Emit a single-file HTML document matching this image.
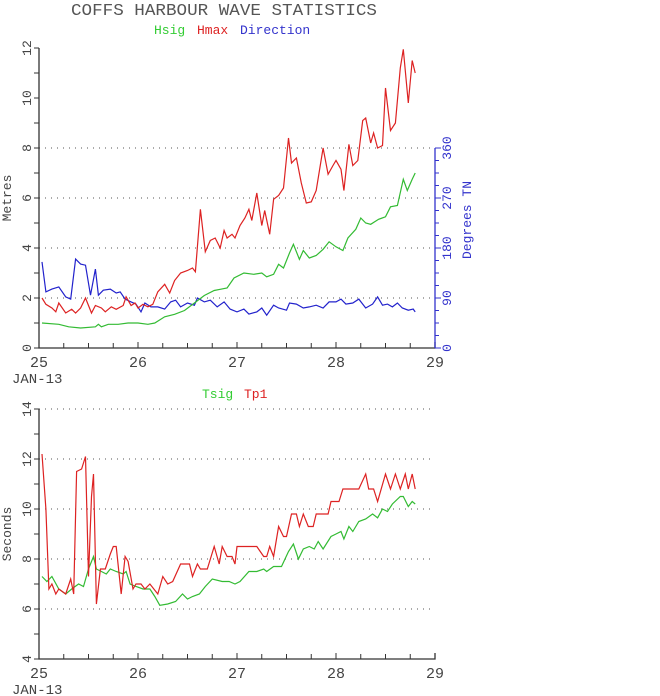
<!DOCTYPE html>
<html><head><meta charset="utf-8"><style>
html,body{margin:0;padding:0;background:#fff;}
svg{display:block;font-family:"Liberation Mono",monospace;}
</style></head><body>
<svg id="c" width="660" height="696" viewBox="0 0 660 696" xmlns="http://www.w3.org/2000/svg">
<text x="224" y="15" text-anchor="middle" font-size="17" fill="#555" textLength="306" lengthAdjust="spacingAndGlyphs">COFFS HARBOUR WAVE STATISTICS</text>
<g font-size="13">
<text x="154" y="34" fill="#3c3">Hsig</text>
<text x="197" y="34" fill="#d22">Hmax</text>
<text x="240" y="34" fill="#33c">Direction</text>
</g>
<g font-size="13">
<text x="202" y="398" fill="#3c3">Tsig</text>
<text x="244" y="398" fill="#d22">Tp1</text>
</g>
<g id="topPanel"></g>
<g id="botPanel"></g>
</svg>
<script>
const hmaxT=[25.03,25.07,25.13,25.17,25.2,25.27,25.33,25.37,25.42,25.47,25.53,25.57,25.63,25.67,25.73,25.78,25.85,25.88,25.93,25.97,26.0,26.05,26.1,26.15,26.2,26.27,26.32,26.37,26.43,26.5,26.55,26.58,26.63,26.68,26.73,26.78,26.83,26.87,26.9,26.95,26.98,27.03,27.08,27.12,27.15,27.2,27.25,27.28,27.33,27.37,27.42,27.47,27.52,27.55,27.6,27.65,27.7,27.75,27.8,27.87,27.92,27.97,28.0,28.05,28.08,28.13,28.17,28.22,28.27,28.3,28.35,28.38,28.42,28.47,28.5,28.55,28.6,28.65,28.68,28.73,28.77,28.8];
const hmaxV=[2.0,1.75,1.6,1.45,1.8,1.4,1.55,1.4,1.6,2.0,1.4,1.7,1.6,1.45,1.65,1.55,1.7,2.05,1.7,1.8,1.6,1.75,1.65,1.75,2.25,2.55,2.2,2.7,3.0,3.1,3.2,3.05,5.55,3.85,4.3,4.4,4.0,4.7,4.4,4.55,4.4,4.9,5.2,5.55,5.1,6.2,4.9,5.5,4.55,5.95,6.1,6.4,8.4,7.4,7.6,6.6,5.8,5.85,6.3,8.0,6.95,7.3,7.5,7.15,6.3,8.15,7.3,7.5,9.1,9.2,8.2,8.6,8.0,8.1,10.4,8.7,9.0,11.2,11.95,9.8,11.5,11.0];
const hsigT=[25.03,25.2,25.3,25.42,25.57,25.6,25.63,25.7,25.8,25.9,26.0,26.1,26.17,26.27,26.37,26.47,26.57,26.67,26.77,26.83,26.9,26.97,27.07,27.17,27.25,27.3,27.37,27.42,27.47,27.53,27.57,27.63,27.67,27.73,27.8,27.87,27.93,28.0,28.07,28.12,28.2,28.25,28.3,28.35,28.43,28.5,28.55,28.62,28.68,28.72,28.77,28.8];
const hsigV=[1.0,0.95,0.85,0.8,0.85,0.95,0.85,0.95,0.95,1.0,1.0,0.95,1.0,1.25,1.35,1.5,1.8,2.1,2.3,2.35,2.4,2.8,3.0,2.95,3.0,2.85,2.95,3.35,3.2,3.8,4.15,3.55,3.9,3.6,3.7,3.95,4.25,4.05,3.9,4.4,4.75,5.2,5.0,4.95,5.15,5.25,5.65,5.7,6.75,6.3,6.75,7.0];
const dirT=[25.03,25.07,25.13,25.2,25.27,25.32,25.37,25.42,25.47,25.52,25.57,25.6,25.65,25.72,25.78,25.82,25.87,25.93,25.98,26.03,26.07,26.13,26.2,26.27,26.33,26.38,26.43,26.5,26.57,26.6,26.67,26.73,26.8,26.87,26.93,27.0,27.07,27.12,27.2,27.25,27.3,27.37,27.42,27.5,27.53,27.6,27.67,27.73,27.8,27.87,27.93,28.0,28.05,28.1,28.17,28.23,28.3,28.37,28.42,28.47,28.52,28.57,28.62,28.67,28.73,28.78,28.8];
const dirV=[155,101,106,110,92,88,160,151,149,95,142,95,104,106,99,101,88,83,79,65,81,74,74,70,83,86,74,81,77,90,83,86,74,83,70,65,70,61,65,72,59,77,72,68,81,79,72,74,77,72,83,83,88,79,81,88,72,79,92,77,79,74,81,72,68,70,65];
const tpT=[25.03,25.07,25.1,25.13,25.17,25.2,25.27,25.32,25.35,25.38,25.43,25.47,25.5,25.53,25.55,25.58,25.62,25.67,25.72,25.75,25.78,25.83,25.87,25.9,25.95,25.98,26.03,26.07,26.12,26.2,26.25,26.3,26.35,26.43,26.52,26.55,26.6,26.63,26.7,26.77,26.82,26.85,26.9,26.95,26.98,27.0,27.05,27.2,27.27,27.3,27.33,27.37,27.42,27.47,27.5,27.55,27.6,27.63,27.67,27.72,27.77,27.8,27.92,27.95,28.03,28.07,28.23,28.3,28.33,28.38,28.42,28.5,28.55,28.6,28.65,28.7,28.73,28.77,28.8];
const tpV=[12.2,10.0,6.8,7.0,6.6,6.8,6.6,7.2,6.6,11.5,11.6,12.1,7.3,10.5,11.4,6.2,7.6,7.6,8.2,8.5,8.5,6.6,8.1,7.9,6.8,7.0,7.0,6.8,7.0,6.6,7.3,7.0,7.1,7.8,7.8,7.3,7.8,7.6,7.6,8.5,7.8,8.5,8.1,8.1,7.8,8.5,8.5,8.5,8.1,8.1,8.5,8.1,9.3,8.9,8.9,9.8,9.8,9.3,9.8,9.3,9.3,9.8,9.8,10.3,10.3,10.8,10.8,11.4,10.8,10.8,10.3,11.4,10.8,11.4,10.8,11.4,10.8,11.4,10.8];
const tsT=[25.03,25.08,25.13,25.2,25.27,25.33,25.4,25.45,25.5,25.55,25.58,25.63,25.68,25.72,25.78,25.85,25.88,25.92,25.98,26.05,26.12,26.17,26.22,26.3,26.38,26.45,26.5,26.55,26.62,26.68,26.75,26.85,26.92,26.98,27.03,27.12,27.2,27.27,27.3,27.37,27.45,27.52,27.57,27.62,27.67,27.73,27.78,27.82,27.87,27.95,28.0,28.05,28.08,28.13,28.17,28.23,28.3,28.37,28.42,28.47,28.52,28.57,28.65,28.68,28.73,28.77,28.8];
const tsV=[7.3,7.1,7.3,6.8,6.6,6.8,7.0,6.9,7.6,8.1,7.6,7.5,7.4,7.6,7.5,7.4,7.5,7.0,6.9,6.8,6.8,6.5,6.15,6.2,6.3,6.6,6.4,6.5,6.6,6.9,7.2,7.1,7.1,7.0,7.1,7.5,7.5,7.6,7.5,7.7,7.7,8.3,8.6,8.0,8.4,8.5,8.4,8.7,8.4,8.9,9.0,9.1,8.8,9.3,9.1,9.5,9.6,9.8,9.65,10.0,9.9,10.2,10.5,10.5,10.1,10.3,10.2];
const dayLabels=["25","26","27","28","29"];
const topTicks=["0","2","4","6","8","10","12"];
const botTicks=["4","6","8","10","12","14"];
const dirTicks=["0","90","180","270","360"];

const NS="http://www.w3.org/2000/svg";
const X0=39,X1=435;
const xs=d=>X0+(d-25)*(X1-X0)/4;
function el(p,tag,a){const e=document.createElementNS(NS,tag);for(const k in a)e.setAttribute(k,a[k]);p.appendChild(e);return e;}
function panel(g,yB,yT,vmin,vmax,ticks,title,gridVals){
  const ys=v=>yB-(v-vmin)*(yB-yT)/(vmax-vmin);
  gridVals.forEach(v=>{const l=el(g,'line',{x1:X0,x2:X1,y1:ys(v),y2:ys(v),stroke:'#555','stroke-width':1,'stroke-dasharray':'1 5'});
    
    });
  const ax=el(g,'path',{d:`M${X0} ${yT}V${yB}H${X1}V${yB-6}`,stroke:'#333',fill:'none','stroke-width':1.3});
  
  
  for(let v=vmin;v<=vmax;v++){const y=ys(v);el(g,'line',{x1:X0-5,x2:X0,y1:y,y2:y,stroke:'#333'});}
  for(let q=0;q<=16;q++){const x=X0+q*(X1-X0)/16;el(g,'line',{x1:x,x2:x,y1:yB,y2:yB-(q%4==0?6:5),stroke:'#333'});}
  ticks.forEach(t=>{const v=+t,y=ys(v);const tx=el(g,'text',{x:31,y:y,'text-anchor':'middle',transform:`rotate(-90 31 ${y})`,'font-size':13,fill:'#444'});tx.textContent=t;
    
    });
  dayLabels.forEach((t,i)=>{const tx=el(g,'text',{x:xs(25+i),y:yB+19,'text-anchor':'middle','font-size':15,fill:'#444'});tx.textContent=t;
    
    });
  const m=el(g,'text',{x:12,y:yB+35,'font-size':14,fill:'#444'});m.textContent='JAN-13';
  
  
  const yt=el(g,'text',{x:11,y:(yB+yT)/2,'text-anchor':'middle',transform:`rotate(-90 11 ${(yB+yT)/2})`,'font-size':13,fill:'#444'});yt.textContent=title;
  
  
  return ys;
}
function drawLine(g,T,V,sx,sy,col,name){
  const d=T.map((t,i)=>(i?'L':'M')+sx(t).toFixed(1)+' '+sy(V[i]).toFixed(1)).join('');
  const p=el(g,'path',{d:d,stroke:col,fill:'none','stroke-width':1.2});
  
  
}
const topG=document.getElementById('topPanel'),botG=document.getElementById('botPanel');
const ysT=panel(topG,348,48,0,12,topTicks,'Metres',[2,4,6,8]);
const ysD=v=>348-v*200/360;
const ra=el(topG,'line',{x1:X1,x2:X1,y1:348,y2:148,stroke:'#33c','stroke-width':1.3});


for(let v=0;v<=360;v+=22.5){const y=ysD(v);el(topG,'line',{x1:X1,x2:X1+(v%90==0?6:4),y1:y,y2:y,stroke:'#33c'});}
dirTicks.forEach(t=>{const y=ysD(+t);const tx=el(topG,'text',{x:451,y:y,'text-anchor':'middle',transform:`rotate(-90 451 ${y})`,'font-size':13,fill:'#33c'});tx.textContent=t;
  
  });
const dt=el(topG,'text',{x:471,y:220,'text-anchor':'middle',transform:'rotate(-90 471 220)','font-size':13,fill:'#33c'});dt.textContent='Degrees TN';


drawLine(topG,dirT,dirV,xs,ysD,'#22c','direction-line');
drawLine(topG,hsigT,hsigV,xs,ysT,'#3b3','hsig-line');
drawLine(topG,hmaxT,hmaxV,xs,ysT,'#d22','hmax-line');
const ysB=panel(botG,659,409,4,14,botTicks,'Seconds',[6,8,10,12,14]);
drawLine(botG,tsT,tsV,xs,ysB,'#3b3','tsig-line');
drawLine(botG,tpT,tpV,xs,ysB,'#d22','tp1-line');
</script>
</body></html>
